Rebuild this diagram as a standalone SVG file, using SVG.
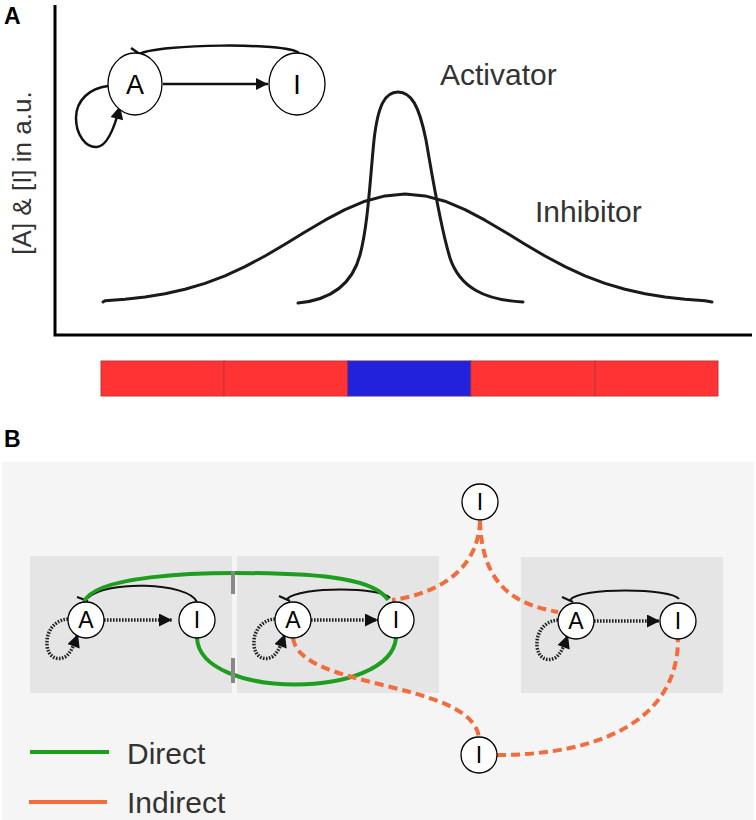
<svg xmlns="http://www.w3.org/2000/svg" width="756" height="820" viewBox="0 0 756 820">
<style>
.lbl{font-family:"Liberation Sans",Arial,sans-serif;fill:#333}
.pl{font-family:"Liberation Sans",Arial,sans-serif;font-weight:bold;font-size:23px;fill:#000}
.nt{font-family:"Liberation Sans",Arial,sans-serif;fill:#000;text-anchor:middle}
.node{fill:#fff;stroke:#000;stroke-width:1.3}
.curve{fill:none;stroke:#1a1a1a;stroke-width:3;stroke-linejoin:round;stroke-linecap:round}
.ax{fill:none;stroke:#000;stroke-width:3}
.solid{fill:none;stroke:#111;stroke-width:2.5}
.thin{fill:none;stroke:#111;stroke-width:2}
.dot{fill:none;stroke:#222;stroke-width:3.5;stroke-dasharray:1.6 1.4}
.green{fill:none;stroke:#1e9e1e;stroke-width:4}
.orange{fill:none;stroke:#f26c3c;stroke-width:4;stroke-dasharray:9 5}
.box{fill:#e5e5e5}
.gbar{stroke:#888;stroke-width:4}
</style>
<defs>
<marker id="arrA" viewBox="0 0 12 12" refX="12" refY="6" markerWidth="12" markerHeight="12" markerUnits="userSpaceOnUse" orient="auto"><path d="M0,0 L12,6 L0,12 z" fill="#111"/></marker>
<marker id="arrB" viewBox="0 0 14 14" refX="14" refY="7" markerWidth="14" markerHeight="13" markerUnits="userSpaceOnUse" orient="auto"><path d="M0,0 L14,7 L0,14 z" fill="#111"/></marker>
</defs>
<rect width="756" height="820" fill="#fff"/>

<!-- Panel A -->
<text class="pl" x="4" y="24">A</text>
<g id="axes">
<path class="ax" d="M55 5 L55 335 L752 335"/>
<text class="lbl" font-size="26" text-anchor="middle" transform="translate(31,173) rotate(-90)" fill="#444">[A] &amp; [I] in a.u.</text>
</g>
<g id="profiles">
<polyline class="curve" points="103,302 105,300.7 125,299.2 145,297 165,293.8 185,289.3 205,283.4 225,275.8 245,266.6 265,256 285,244.2 305,232 325,220.2 345,209.6 365,201.2 385,195.9 405,194 425,195.9 445,201.2 465,209.6 485,220.2 505,232 525,244.2 545,256 565,266.6 585,275.8 605,283.4 625,289.3 645,293.8 665,297 685,299.2 705,300.7 712,302"/>
<path class="curve" d="M298 303 C330 300,352 285,360 255 C368 225,370 180,374 140 C378 105,385 92,398 92 C411 92,419 105,426 140 C433 180,440 225,450 258 C460 288,485 300,523 302"/>
<text class="lbl" font-size="30" x="440" y="85">Activator</text>
<text class="lbl" font-size="30" x="535" y="222">Inhibitor</text>
</g>
<g id="bar">
<rect x="101" y="361" width="123" height="35" fill="#ff3333" stroke="#c03838" stroke-width="1"/>
<rect x="224" y="361" width="124" height="35" fill="#ff3333" stroke="#c03838" stroke-width="1"/>
<rect x="348" y="361" width="123" height="35" fill="#2222dd" stroke="#4a2a8a" stroke-width="1"/>
<rect x="471" y="361" width="124" height="35" fill="#ff3333" stroke="#c03838" stroke-width="1"/>
<rect x="595" y="361" width="123" height="35" fill="#ff3333" stroke="#c03838" stroke-width="1"/>
</g>
<g id="insetA-edges">
<path class="solid" d="M163 84 L268 84" marker-end="url(#arrA)"/>
<path class="solid" d="M299 53 C285 42,160 44,139 54"/>
<line class="solid" stroke-width="3" x1="131" y1="48" x2="147" y2="59"/>
<path class="solid" d="M108 86 C90 88,76 100,76 118 C76 135,86 148,97 147 C108 146,115 126,120 106" marker-end="url(#arrB)"/>
</g>
<g id="insetA-A"><ellipse class="node" cx="135" cy="84" rx="27" ry="31"/><text class="nt" x="135" y="94" font-size="27">A</text></g>
<g id="insetA-I"><ellipse class="node" cx="297" cy="84" rx="28" ry="31"/><text class="nt" x="297" y="94" font-size="27">I</text></g>

<!-- Panel B -->
<text class="pl" x="4" y="447">B</text>
<rect x="2" y="462" width="752" height="358" fill="#f5f5f5"/>
<rect class="box" x="30" y="556" width="202" height="137"/>
<rect class="box" x="237" y="556" width="202" height="137"/>
<rect class="box" x="521" y="557" width="202" height="136"/>

<g id="motif-edges">
<path class="dot" d="M104 620 L172 620" marker-end="url(#arrB)"/>
<path class="thin" d="M197 602 C188 582,105 580,88 598"/>
<line class="thin" x1="77" y1="597" x2="88" y2="601"/>
<path class="dot" d="M68 619 C54 620,46 632,47 645 C48 657,57 661,65 657 C71 653,74 645,78 634" marker-end="url(#arrB)"/>

<path class="dot" d="M311 620 L378 620" marker-end="url(#arrB)"/>
<path class="thin" d="M390 598 C383 587,300 586,287 599"/>
<line class="thin" x1="279" y1="596" x2="290" y2="601"/>
<path class="dot" d="M275 619 C261 620,253 632,254 645 C255 657,264 661,272 657 C278 653,281 645,285 634" marker-end="url(#arrB)"/>

<path class="dot" d="M594 621 L660 621" marker-end="url(#arrB)"/>
<path class="thin" d="M679 599 C672 588,580 587,570 600"/>
<line class="thin" x1="562" y1="597" x2="573" y2="602"/>
<path class="dot" d="M558 620 C544 621,536 633,537 646 C538 658,547 662,555 658 C561 654,564 646,568 635" marker-end="url(#arrB)"/>
</g>

<g id="connectors">
<path class="green" d="M84 602 C95 575,200 573,235 573 C330 573,375 580,388 600"/>
<path class="green" d="M197 638 C200 700,390 700,396 638"/>
<line class="gbar" x1="233" y1="571" x2="233" y2="594"/>
<line class="gbar" x1="233" y1="658" x2="233" y2="683"/>
<path class="orange" d="M480 521 C478 575,430 595,392 600"/>
<path class="orange" d="M480 521 C482 590,520 605,558 612"/>
<path class="orange" d="M293 638 C300 690,470 680,479 737"/>
<path class="orange" d="M497 755 C600 755,678 720,678 639"/>
</g>

<g id="n1A"><circle class="node" cx="86" cy="620" r="18"/><text class="nt" x="86" y="628" font-size="23">A</text></g>
<g id="n1I"><circle class="node" cx="197" cy="620" r="18"/><text class="nt" x="197" y="628" font-size="23">I</text></g>
<g id="n2A"><circle class="node" cx="293" cy="620" r="18"/><text class="nt" x="293" y="628" font-size="23">A</text></g>
<g id="n2I"><circle class="node" cx="396" cy="620" r="18"/><text class="nt" x="396" y="628" font-size="23">I</text></g>
<g id="n3A"><circle class="node" cx="576" cy="621" r="18"/><text class="nt" x="576" y="629" font-size="23">A</text></g>
<g id="n3I"><circle class="node" cx="678" cy="621" r="18"/><text class="nt" x="678" y="629" font-size="23">I</text></g>
<g id="nTopI"><circle class="node" cx="480" cy="502" r="18"/><text class="nt" x="480" y="510" font-size="23">I</text></g>
<g id="nBotI"><circle class="node" cx="479" cy="755" r="18"/><text class="nt" x="479" y="763" font-size="23">I</text></g>

<g id="legend">
<line x1="30" y1="752" x2="109" y2="752" stroke="#1e9e1e" stroke-width="4"/>
<text class="lbl" font-size="30" x="127" y="764">Direct</text>
<line x1="29" y1="802" x2="107" y2="802" stroke="#f26c3c" stroke-width="4"/>
<text class="lbl" font-size="30" x="127" y="813">Indirect</text>
</g>
</svg>
